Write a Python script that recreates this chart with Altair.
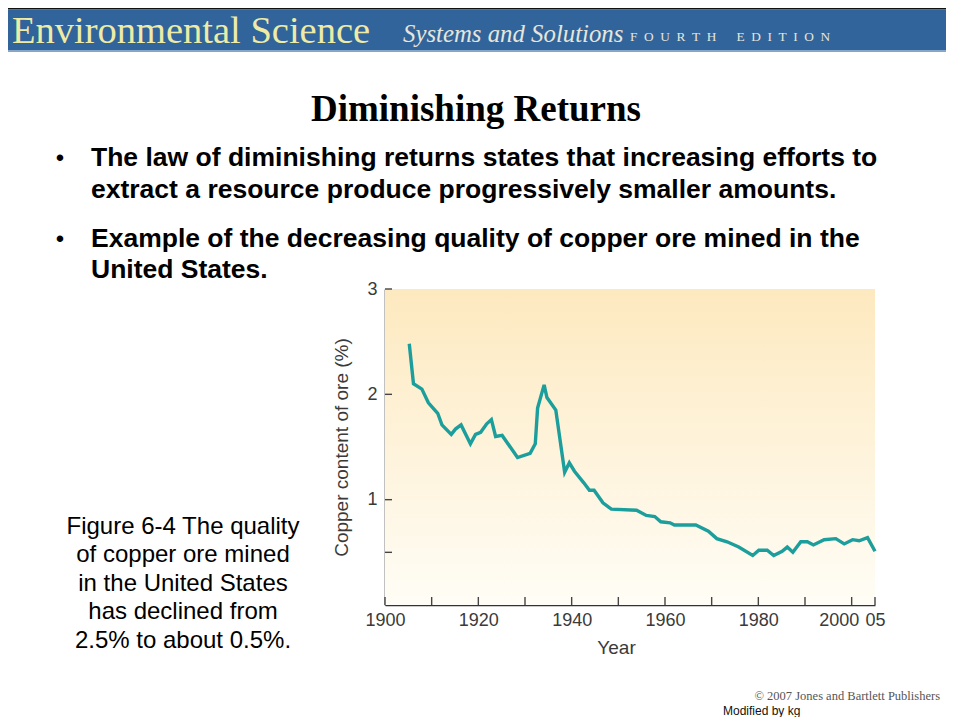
import altair as alt
import pandas as pd

# ---------------- data ----------------
years = [1905.2, 1906.1, 1907.9, 1909.3, 1911.3, 1912.2, 1914.2, 1915.1, 1916.3, 1918.3,
         1919.4, 1920.5, 1921.8, 1922.8, 1923.7, 1925.1, 1928.4, 1931.1, 1932.2, 1932.7,
         1934.1, 1934.7, 1936.6, 1938.5, 1939.5, 1940.6, 1942.6, 1943.8, 1944.8, 1946.7,
         1948.5, 1953.9, 1956.0, 1957.8, 1959.1, 1961.1, 1962.0, 1966.6, 1969.3, 1971.1,
         1973.3, 1975.8, 1978.8, 1980.1, 1981.9, 1983.3, 1985.1, 1986.2, 1987.4, 1989.1,
         1990.5, 1991.8, 1994.1, 1996.6, 1998.4, 2000.2, 2001.6, 2003.4, 2005.0]
copper = [2.48, 2.10, 2.05, 1.92, 1.82, 1.71, 1.62, 1.67, 1.71, 1.53,
          1.62, 1.64, 1.72, 1.76, 1.60, 1.61, 1.40, 1.44, 1.53, 1.87,
          2.09, 1.97, 1.85, 1.26, 1.35, 1.27, 1.16, 1.09, 1.09, 0.97,
          0.91, 0.90, 0.85, 0.84, 0.79, 0.78, 0.76, 0.76, 0.70, 0.63,
          0.60, 0.55, 0.47, 0.52, 0.52, 0.47, 0.51, 0.55, 0.50, 0.60,
          0.60, 0.57, 0.62, 0.63, 0.58, 0.62, 0.61, 0.64, 0.51]
x_label_years = [1900, 1920, 1940, 1960, 1980, 2000, 2005]
x_tick_years = [1900, 1910, 1920, 1930, 1940, 1950, 1960, 1970, 1980, 1990, 2000, 2005]
y_label_values = [1, 2, 3]
y_tick_values = [0.5, 1, 2, 3]

header_main = "Environmental Science"
header_sub = "Systems and Solutions"
header_ed = "\u2002".join("FOURTH") + "\u2002\u2002\u2002" + "\u2002".join("EDITION")
slide_title = "Diminishing Returns"
bullet1 = ["The law of diminishing returns states that increasing efforts to",
           "extract a resource produce progressively smaller amounts."]
bullet2 = ["Example of the decreasing quality of copper ore mined in the",
           "United States."]
caption = ["Figure 6-4 The quality", "of copper ore mined", "in the United States",
           "has declined from", "2.5% to about 0.5%."]
copyright_txt = "\u00a9 2007 Jones and Bartlett Publishers"
modified_txt = "Modified by kg"

# ---------------- layout ----------------
W, H = 490, 316
PAD_L, PAD_T = 377, 281
TOTAL_W, TOTAL_H = 938, 709

line_df = pd.DataFrame({"Year": years, "Copper": copper})
xt_df = pd.DataFrame({"Year": x_tick_years})
yt_df = pd.DataFrame({"Copper": y_tick_values})
one = alt.Data(values=[{"k": 1}])

xscale = alt.Scale(domain=[1900, 2005], nice=False, zero=False)
yscale = alt.Scale(domain=[0, 3], nice=False)

AX = "#3a3a3a"
SANS = "Liberation Sans"
SERIF = "Liberation Serif"

bg = alt.Chart(one).mark_rect(
    fill=alt.Gradient(gradient="linear", x1=0, y1=0, x2=0, y2=1,
                      stops=[alt.GradientStop(offset=0, color="#FDE9BF"),
                             alt.GradientStop(offset=1, color="#FFFDF6")])
).encode(x=alt.value(0), x2=alt.value(W), y=alt.value(0), y2=alt.value(H))

line = alt.Chart(line_df).mark_line(color="#1B9E9C", strokeWidth=3.4, strokeJoin="miter").encode(
    x=alt.X("Year:Q", scale=xscale,
            axis=alt.Axis(values=x_label_years, tickSize=0, grid=False,
                          labelExpr="datum.value == 2005 ? '05' : format(datum.value, 'd')",
                          labelOffset={"condition": {"test": "datum.value == 2000", "value": -13}, "value": 0},
                          labelFont=SANS, labelFontSize=18, labelColor=AX, labelPadding=6,
                          labelFlush=False, labelOverlap=False,
                          domainColor="#333333", domainWidth=1.6,
                          title="Year", titleFont=SANS, titleFontSize=19, titleFontWeight="normal",
                          titleColor=AX, titleX=231, titleY=48, titleBaseline="alphabetic",
                          titleAlign="center")),
    y=alt.Y("Copper:Q", scale=yscale,
            axis=alt.Axis(values=y_label_values, tickSize=0, grid=False,
                          labelExpr="format(datum.value, 'd')",
                          labelFont=SANS, labelFontSize=18, labelColor=AX, labelPadding=8,
                          labelFlush=False,
                          domainColor="#333333", domainWidth=1.6,
                          title="Copper content of ore (%)", titleFont=SANS, titleFontSize=19,
                          titleFontWeight="normal", titleColor=AX, titleAngle=270,
                          titleX=-44, titleY=H / 2, titleBaseline="middle", titleAlign="center")),
)

xticks = alt.Chart(xt_df).mark_rule(color="#444444", strokeWidth=1.4).encode(
    x=alt.X("Year:Q", scale=xscale), y=alt.value(H - 8), y2=alt.value(H))
yticks = alt.Chart(yt_df).mark_rule(color="#444444", strokeWidth=1.4).encode(
    y=alt.Y("Copper:Q", scale=yscale), x=alt.value(0), x2=alt.value(7))


def box(x, x2, y, y2, color):
    return alt.Chart(one).mark_rect(fill=color).encode(
        x=alt.value(x), x2=alt.value(x2), y=alt.value(y), y2=alt.value(y2))


def txt(text, x, y, **kw):
    return alt.Chart(one).mark_text(text=text, baseline="alphabetic", **kw).encode(
        x=alt.value(x), y=alt.value(y))


L = -PAD_L
R = TOTAL_W - PAD_L
T = -PAD_T
header = [
    box(L, R, T, T + 1.5, "#111111"),
    box(L, R, T + 1.5, T + 42, "#31649A"),
    box(L, R, T + 42, T + 44, "#86A6C8"),
    txt(header_main, -373, -246, font=SERIF, fontSize=38.5, color="#EEEBA6", align="left"),
    txt(header_sub, 18, -247, font=SERIF, fontSize=24.8, fontStyle="italic", color="#E6E6DC", align="left"),
    txt(header_ed, 245, -248, font=SERIF, fontSize=13.3, color="#E6E6DC", align="left"),
]

body = [
    txt(slide_title, 91, -168, font=SERIF, fontSize=37, fontWeight="bold", color="#000000", align="center"),
    txt("\u2022", -325, -123, font=SANS, fontSize=24, color="#000000", align="center"),
    txt(bullet1, -294, -123, font=SANS, fontSize=26.5, fontWeight="bold", color="#000000",
        align="left", lineHeight=32),
    txt("\u2022", -325, -42, font=SANS, fontSize=24, color="#000000", align="center"),
    txt(bullet2, -294, -42, font=SANS, fontSize=26.5, fontWeight="bold", color="#000000",
        align="left", lineHeight=31),
    txt(caption, -202, 245, font=SANS, fontSize=24, color="#000000", align="center", lineHeight=28.4),
    txt(copyright_txt, 555, 411, font=SERIF, fontSize=12.5, color="#555555", align="right"),
    txt(modified_txt, 338, 426, font=SANS, fontSize=12, color="#111111", align="left"),
]

chart = alt.layer(bg, line, xticks, yticks, *header, *body).properties(
    width=W, height=H,
    autosize=alt.AutoSizeParams(type="none"),
    padding={"left": PAD_L, "top": PAD_T, "right": TOTAL_W - PAD_L - W, "bottom": TOTAL_H - PAD_T - H},
    background="#FFFFFF",
).configure_view(stroke=None)

chart.save("out.html", embed_options={"renderer": "svg", "actions": False})
